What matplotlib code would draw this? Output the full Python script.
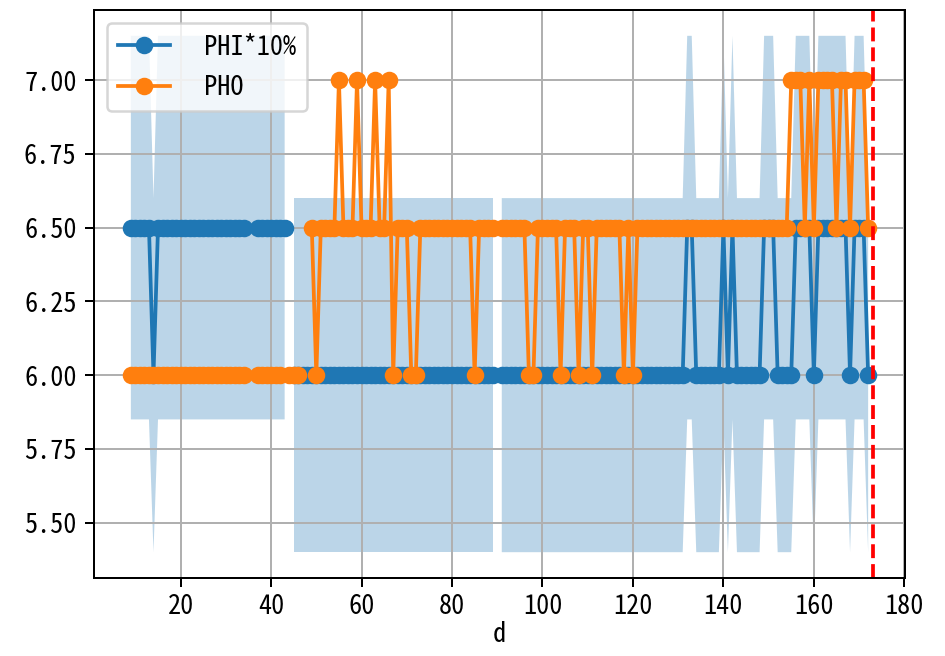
import numpy as np
import matplotlib
matplotlib.use("Agg")
import matplotlib.pyplot as plt

plt.rcParams['font.family'] = ['Noto Sans Mono CJK SC', 'DejaVu Sans Mono']
plt.rcParams['font.size'] = 10.5

nan = np.nan

days = [9, 10, 11, 12, 13, 14, 15, 16, 17, 18,
        19, 20, 21, 22, 23, 24, 25, 26, 27, 28,
        29, 30, 31, 32, 33, 34, 37, 38, 39, 40,
        41, 42, 43, 44, 45, 46, 47, 48, 49, 50,
        51, 52, 53, 54, 55, 56, 57, 58, 59, 60,
        61, 62, 63, 64, 65, 66, 67, 68, 69, 70,
        71, 72, 73, 74, 75, 76, 77, 78, 79, 80,
        81, 82, 83, 84, 85, 86, 87, 88, 89, 90,
        91, 92, 93, 94, 95, 96, 97, 98, 99, 100,
        101, 102, 103, 104, 105, 106, 107, 108, 109, 110,
        111, 112, 113, 114, 115, 116, 117, 118, 119, 120,
        121, 122, 123, 124, 125, 126, 127, 128, 129, 130,
        131, 132, 133, 134, 135, 136, 137, 138, 139, 140,
        141, 142, 143, 144, 145, 146, 147, 148, 149, 150,
        151, 152, 153, 154, 155, 156, 157, 158, 159, 160,
        161, 162, 163, 164, 165, 166, 167, 168, 169, 170,
        171, 172]

phi = [6.5, 6.5, 6.5, 6.5, 6.5, 6.0, 6.5, 6.5, 6.5, 6.5,
       6.5, 6.5, 6.5, 6.5, 6.5, 6.5, 6.5, 6.5, 6.5, 6.5,
       6.5, 6.5, 6.5, 6.5, 6.5, 6.5, 6.5, 6.5, 6.5, 6.5,
       6.5, 6.5, 6.5, nan, 6.0, 6.0, 6.0, 6.0, 6.0, 6.0,
       6.0, 6.0, 6.0, 6.0, 6.0, 6.0, 6.0, 6.0, 6.0, 6.0,
       6.0, 6.0, 6.0, 6.0, 6.0, 6.0, 6.0, 6.0, 6.0, 6.0,
       6.0, 6.0, 6.0, 6.0, 6.0, 6.0, 6.0, 6.0, 6.0, 6.0,
       6.0, 6.0, 6.0, 6.0, 6.0, 6.0, 6.0, 6.0, 6.0, nan,
       6.0, 6.0, 6.0, 6.0, 6.0, 6.0, 6.0, 6.0, 6.0, 6.0,
       6.0, 6.0, 6.0, 6.0, 6.0, 6.0, 6.0, 6.0, 6.0, 6.0,
       6.0, 6.0, 6.0, 6.0, 6.0, 6.0, 6.0, 6.0, 6.0, 6.0,
       6.0, 6.0, 6.0, 6.0, 6.0, 6.0, 6.0, 6.0, 6.0, 6.0,
       6.0, 6.5, 6.5, 6.0, 6.0, 6.0, 6.0, 6.0, 6.0, 6.5,
       6.0, 6.5, 6.0, 6.0, 6.0, 6.0, 6.0, 6.0, 6.5, 6.5,
       6.5, 6.0, 6.0, 6.0, 6.0, 6.5, 6.5, 6.5, 6.5, 6.0,
       6.5, 6.5, 6.5, 6.5, 6.5, 6.5, 6.5, 6.0, 6.5, 6.5,
       6.5, 6.0]

pho = [6.0, 6.0, 6.0, 6.0, 6.0, 6.0, 6.0, 6.0, 6.0, 6.0,
       6.0, 6.0, 6.0, 6.0, 6.0, 6.0, 6.0, 6.0, 6.0, 6.0,
       6.0, 6.0, 6.0, 6.0, 6.0, 6.0, 6.0, 6.0, 6.0, 6.0,
       6.0, 6.0, nan, 6.0, 6.0, 6.0, nan, nan, 6.5, 6.0,
       6.5, 6.5, 6.5, 6.5, 7.0, 6.5, 6.5, 6.5, 7.0, 6.5,
       6.5, 6.5, 7.0, 6.5, 6.5, 7.0, 6.0, 6.5, 6.5, 6.5,
       6.0, 6.0, 6.5, 6.5, 6.5, 6.5, 6.5, 6.5, 6.5, 6.5,
       6.5, 6.5, 6.5, 6.5, 6.0, 6.5, 6.5, 6.5, 6.5, nan,
       6.5, 6.5, 6.5, 6.5, 6.5, 6.5, 6.0, 6.0, 6.5, 6.5,
       6.5, 6.5, 6.5, 6.0, 6.5, 6.5, 6.5, 6.0, 6.5, 6.5,
       6.0, 6.5, 6.5, 6.5, 6.5, 6.5, 6.5, 6.0, 6.5, 6.0,
       6.5, 6.5, 6.5, 6.5, 6.5, 6.5, 6.5, 6.5, 6.5, 6.5,
       6.5, 6.5, 6.5, 6.5, 6.5, 6.5, 6.5, 6.5, 6.5, 6.5,
       6.5, 6.5, 6.5, 6.5, 6.5, 6.5, 6.5, 6.5, 6.5, 6.5,
       6.5, 6.5, 6.5, 6.5, 7.0, 7.0, 7.0, 6.5, 7.0, 6.5,
       7.0, 7.0, 7.0, 7.0, 6.5, 7.0, 7.0, 6.5, 7.0, 7.0,
       7.0, 6.5]

band_frac = 0.10
marker_day = 173
labels = [' PHI*10%', ' PHO']
xlabel = 'd'

x = np.array(days, dtype=float)
phi_a = np.array(phi, dtype=float)
pho_a = np.array(pho, dtype=float)

fig = plt.figure(figsize=(945 / 180, 656 / 180), dpi=180)
ax = fig.add_axes([94 / 945, 1 - 578 / 656, (905 - 94) / 945, (578 - 10) / 656])

ax.plot(x, phi_a, 'o-', label=labels[0])
ax.plot(x, pho_a, 'o-', label=labels[1])
ax.fill_between(x, phi_a * (1 - band_frac), phi_a * (1 + band_frac), alpha=0.3)
ax.grid(True)
ax.legend(loc='upper left')
ax.set_xlabel(xlabel, labelpad=0.5)
ax.tick_params(axis='x', pad=2.5)
xl = ax.get_xlim()
ax.axvline(marker_day, color='red', linestyle='--')
ax.set_xlim(xl)

fig.savefig('out.png', dpi=180)
